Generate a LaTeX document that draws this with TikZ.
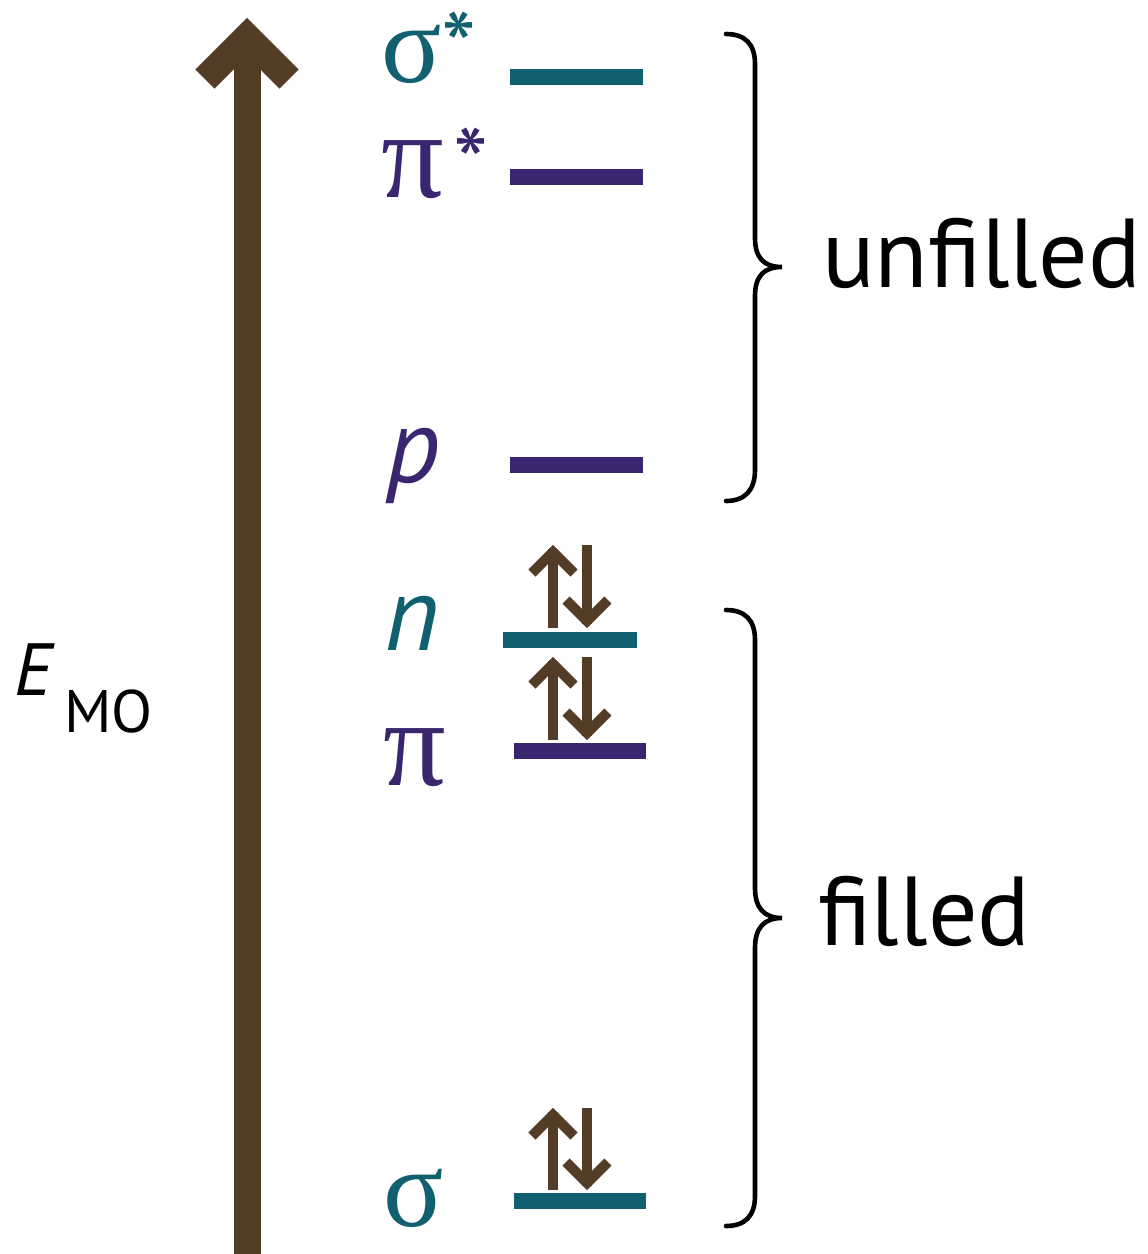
\documentclass[tikz,border=0pt]{standalone}
\usepackage{fontspec}
\setmainfont{PT Sans}
\newfontfamily\grkfont{Liberation Serif}
\definecolor{moteal}{RGB}{16,96,112}
\definecolor{mopurple}{RGB}{58,38,110}
\definecolor{mobrown}{RGB}{82,60,38}
\newcommand\spinpair[2]{%
  \draw[spinline] (553,#1) -- (553,#2+4);
  \draw[spinline] (532,#2+28) -- (553,#2+7) -- (574,#2+28);
  \draw[spinline] (587,#2) -- (587,#1-4);
  \draw[spinline] (566,#1-28) -- (587,#1-7) -- (608,#1-28);
}
\begin{document}
\begin{tikzpicture}[x=0.5pt,y=-0.5pt,
  lvl/.style={line width=8.2pt},
  spinline/.style={draw=mobrown,line width=5pt,miter limit=10},
  bigarrow/.style={draw=mobrown,line width=13.5pt,miter limit=10},
  bracestyle/.style={draw=black,line width=2.3pt,line cap=round},
  lab/.style={inner sep=0pt,outer sep=0pt,anchor=base west},
  greek/.style={lab,font=\grkfont\fontsize{56}{56}\selectfont},
  greekpi/.style={lab,font=\grkfont\fontsize{62}{62}\selectfont},
  itl/.style={lab,font=\fontsize{53}{53}\selectfont\itshape},
  star/.style={inner sep=0pt,outer sep=0pt,anchor=north west,font=\fontsize{50}{50}\selectfont},
  word/.style={lab,font=\fontsize{49}{49}\selectfont}]
\useasboundingbox[fill=white] (0,0) rectangle (1147,1254);
% energy axis
\draw[bigarrow] (247,1262) -- (247,40);
\draw[bigarrow] (205,79) -- (247,37) -- (289,79);
\node[lab,font=\fontsize{37}{37}\selectfont\itshape] (E) at (14,695) {E};
\node[lab,font=\fontsize{30}{30}\selectfont] (MO) at (64,732) {MO};
% levels
\draw[lvl,moteal]   (510,77)   -- (643,77);
\draw[lvl,mopurple] (510,177)  -- (643,177);
\draw[lvl,mopurple] (510,465)  -- (643,465);
\draw[lvl,moteal]   (503,640)  -- (637,640);
\draw[lvl,mopurple] (514,751)  -- (646,751);
\draw[lvl,moteal]   (514,1201) -- (646,1201);
% labels
\node[greek,text=moteal] (ss) at (381,82) {σ};
\node[star,text=moteal] (ssx) at (441,12) {*};
\node[greekpi,text=mopurple] (ps) at (381,197) {π};
\node[star,text=mopurple] (psx) at (453,128) {*};
\node[itl,text=mopurple] (pl) at (386,482) {p};
\node[itl,text=moteal] (nl) at (384,650) {n};
\node[greekpi,text=mopurple] (pil) at (383,785) {π};
\node[greek,text=moteal] (sl) at (383,1226) {σ};
% electrons
\spinpair{628}{545}
\spinpair{740}{657}
\spinpair{1190}{1108}
% braces
\draw[bracestyle] (726,34) .. controls (745,34) and (755,44) .. (755,64) -- (755,238)
  .. controls (755,258) and (764,267) .. (782,267)
  .. controls (764,267) and (755,276) .. (755,296) -- (755,470)
  .. controls (755,490) and (745,501) .. (726,501);
\node[word] (unf) at (822,287) {unfilled};
\draw[bracestyle] (726,610) .. controls (745,610) and (755,620) .. (755,640) -- (755,888)
  .. controls (755,908) and (764,918) .. (782,918)
  .. controls (764,918) and (755,928) .. (755,948) -- (755,1196)
  .. controls (755,1216) and (745,1226) .. (726,1226);
\node[word] (fil) at (818,945) {filled};
\end{tikzpicture}
\end{document}
